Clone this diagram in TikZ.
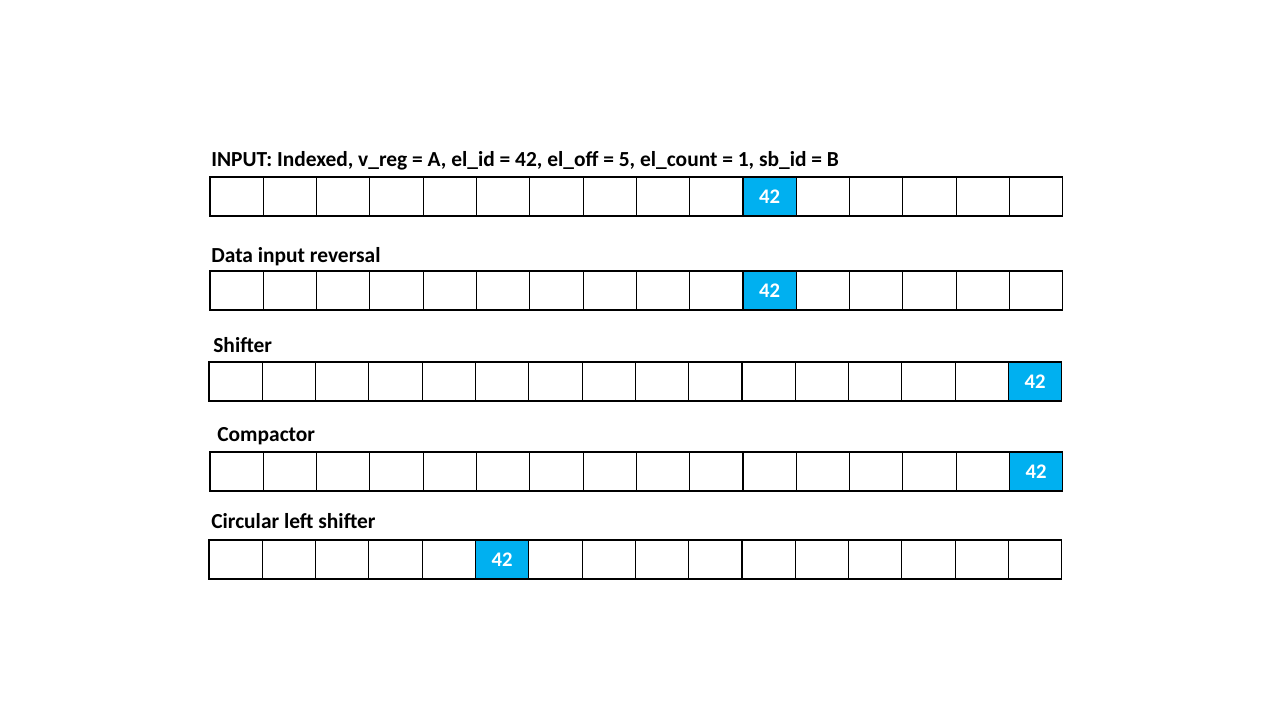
\documentclass[tikz,border=0pt]{standalone}
\usepackage{fontspec}
\setmainfont{Carlito}
\usepackage{tikz}
\definecolor{hitblue}{HTML}{00B0F0}
\tikzstyle{cell}=[draw,%
                  rectangle,%
                  line width    = 0.6pt,%
                  inner sep     = 0pt,%
                  minimum width = 1.066cm,%
                  minimum height= 0.78cm]
\tikzstyle{hit}=[cell,fill=hitblue,text=white,font=\bfseries\fontsize{11.8}{14}\selectfont]
\tikzstyle{caption}=[anchor=base west,inner sep=0pt,font=\bfseries\fontsize{12.2}{15}\selectfont]

\begin{document}
\begin{tikzpicture}[x=0.02cm,y=-0.02cm]
  \useasboundingbox (0,0) rectangle (1280,720);
  % captions
  \node[caption] (t1) at (211,166) {INPUT: Indexed, v\_reg = A, el\_id = 42, el\_off = 5, el\_count = 1, sb\_id = B};
  \node[caption] (t2) at (211,262) {Data input reversal};
  \node[caption] (t3) at (213,352) {Shifter};
  \node[caption] (t4) at (217,441) {Compactor};
  \node[caption] (t5) at (211,528) {Circular left shifter};
  % rows of cells: row/left/middle
  \foreach \r/\x/\y in {1/210/196.5, 2/210/290.5, 3/209/381.5, 4/210/471.5, 5/209/559.5}
    \foreach \i in {1,...,16}
      \node[cell] (r\r c\i) at ({\x+53.3*(\i-0.5)},\y) {};
  % the element
  \node[hit] (h1) at (r1c11) {42};
  \node[hit] (h2) at (r2c11) {42};
  \node[hit] (h3) at (r3c16) {42};
  \node[hit] (h4) at (r4c16) {42};
  \node[hit] (h5) at (r5c6)  {42};
\end{tikzpicture}
\end{document}
